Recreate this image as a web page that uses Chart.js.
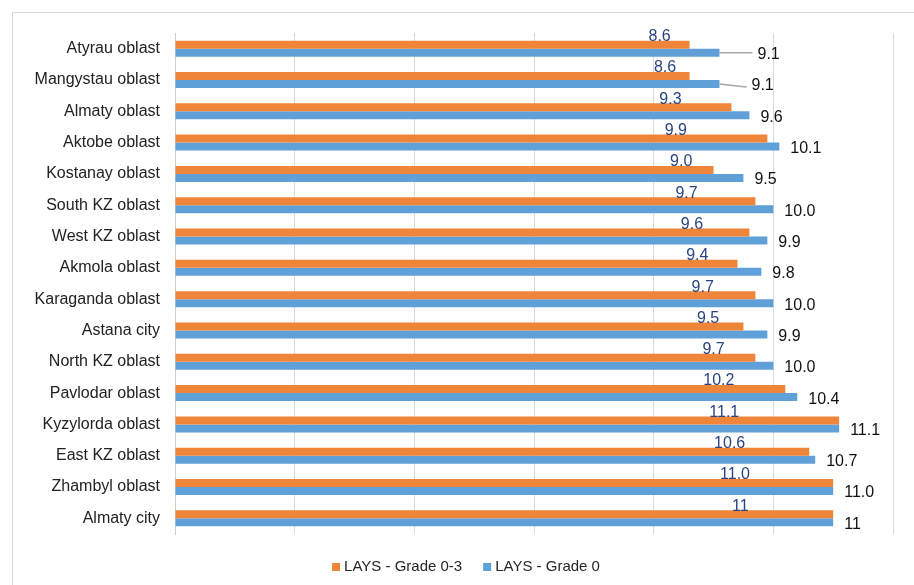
<!DOCTYPE html>
<html>
<head>
<meta charset="utf-8">
<script src="https://cdn.jsdelivr.net/npm/chart.js@4"></script>
<style>
  html, body { margin: 0; padding: 0; background: #fff; }
  canvas { display: block; }
</style>
</head>
<body>
<canvas id="myChart" width="914" height="585"></canvas>
<script>
// regions, top to bottom as in the chart
const regions = [
  "Atyrau oblast", "Mangystau oblast", "Almaty oblast", "Aktobe oblast",
  "Kostanay oblast", "South KZ oblast", "West KZ oblast", "Akmola oblast",
  "Karaganda oblast", "Astana city", "North KZ oblast", "Pavlodar oblast",
  "Kyzylorda oblast", "East KZ oblast", "Zhambyl oblast", "Almaty city"
];
const lays03 = [8.6, 8.6, 9.3, 9.9, 9.0, 9.7, 9.6, 9.4, 9.7, 9.5, 9.7, 10.2, 11.1, 10.6, 11.0, 11];
const lays0 = [9.1, 9.1, 9.6, 10.1, 9.5, 10.0, 9.9, 9.8, 10.0, 9.9, 10.0, 10.4, 11.1, 10.7, 11.0, 11];
// data labels as printed in the chart
const lays03Text = ["8.6", "8.6", "9.3", "9.9", "9.0", "9.7", "9.6", "9.4", "9.7", "9.5", "9.7", "10.2", "11.1", "10.6", "11.0", "11"];
const lays0Text = ["9.1", "9.1", "9.6", "10.1", "9.5", "10.0", "9.9", "9.8", "10.0", "9.9", "10.0", "10.4", "11.1", "10.7", "11.0", "11"];

const ORANGE = "#EF8539";
const BLUE = "#60A0D8";
const FONT = '"Liberation Sans", Arial, sans-serif';

// frame round the whole chart
const framePlugin = {
  id: "frame",
  beforeDraw(chart) {
    const ctx = chart.ctx;
    ctx.save();
    ctx.fillStyle = "#fff";
    ctx.fillRect(0, 0, chart.width, chart.height);
    ctx.strokeStyle = "#d9d9d9";
    ctx.lineWidth = 1;
    ctx.strokeRect(12.5, 12.5, chart.width + 20, chart.height + 20);
    ctx.restore();
  }
};

// value labels: grade 0-3 above the orange bar, grade 0 right of the blue bar
const labelPlugin = {
  id: "valueLabels",
  afterDatasetsDraw(chart) {
    const ctx = chart.ctx;
    const xs = chart.scales.x;
    const orange = chart.getDatasetMeta(0);
    const blue = chart.getDatasetMeta(1);
    const leaderShift = { 0: 27, 1: 21 }; // labels pulled out with a leader line
    ctx.save();
    ctx.font = "16px " + FONT;
    ctx.textBaseline = "middle";

    orange.data.forEach((bar, i) => {
      ctx.fillStyle = "#2A4480";
      ctx.textAlign = "center";
      ctx.fillText(lays03Text[i], xs.getPixelForValue(8.1 + i * 0.09), bar.y - bar.height / 2 - 4);
    });

    blue.data.forEach((bar, i) => {
      const shift = leaderShift[i] || 0;
      const lx = bar.x + 11 + shift;
      if (shift) {
        ctx.strokeStyle = "#a6a6a6";
        ctx.lineWidth = 1.5;
        ctx.beginPath();
        ctx.moveTo(bar.x, bar.y);
        ctx.lineTo(lx - 5, bar.y + (i === 1 ? 3 : 0));
        ctx.stroke();
      }
      ctx.fillStyle = "#111";
      ctx.textAlign = "left";
      ctx.fillText(lays0Text[i], lx, bar.y + 2);
    });
    ctx.restore();
  }
};

// legend at the bottom
const legendPlugin = {
  id: "bottomLegend",
  afterDraw(chart) {
    const ctx = chart.ctx;
    const sets = chart.data.datasets;
    ctx.save();
    ctx.font = "15px " + FONT;
    ctx.textBaseline = "middle";
    ctx.textAlign = "left";
    const widths = sets.map(d => ctx.measureText(d.label).width);
    const total = widths.reduce((a, w) => a + w + 12, 0) + 21 * (sets.length - 1);
    let x = 466 - total / 2;
    const y = 567;
    sets.forEach((d, i) => {
      ctx.fillStyle = d.backgroundColor;
      ctx.fillRect(x, y - 4, 8, 8);
      ctx.fillStyle = "#262626";
      ctx.fillText(d.label, x + 12, y);
      x += 12 + widths[i] + 21;
    });
    ctx.restore();
  }
};

new Chart(document.getElementById("myChart").getContext("2d"), {
  type: "bar",
  data: {
    labels: regions,
    datasets: [
      { label: "LAYS - Grade 0-3", data: lays03, backgroundColor: ORANGE },
      { label: "LAYS - Grade 0", data: lays0, backgroundColor: BLUE }
    ]
  },
  options: {
    indexAxis: "y",
    responsive: false,
    animation: false,
    devicePixelRatio: 1,
    categoryPercentage: 0.512,
    barPercentage: 1,
    layout: { padding: { left: 12, right: 21, top: 33, bottom: 51 } },
    plugins: {
      legend: { display: false },
      tooltip: { enabled: false }
    },
    scales: {
      x: {
        min: 0,
        max: 12,
        ticks: { display: false, stepSize: 2 },
        grid: { color: "#d9d9d9", lineWidth: 1, drawTicks: false },
        border: { display: false }
      },
      y: {
        afterFit(scale) { scale.width = 163; },
        ticks: { color: "#222", font: { family: FONT, size: 16 }, padding: 15 },
        grid: { display: false, drawTicks: false },
        border: { display: true, color: "#cfcfcf" }
      }
    }
  },
  plugins: [framePlugin, labelPlugin, legendPlugin]
});
</script>
</body>
</html>
